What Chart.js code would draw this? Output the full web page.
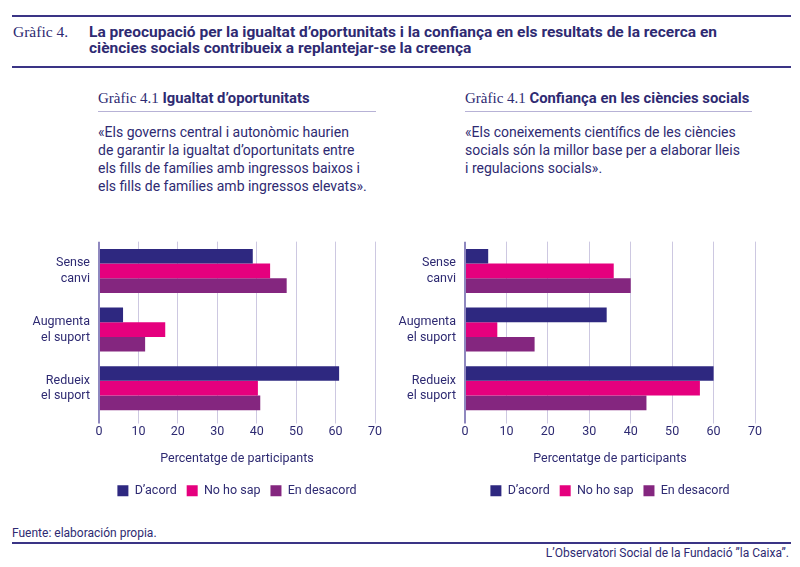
<!DOCTYPE html>
<html lang="ca">
<head>
<meta charset="UTF-8">
<title>Gràfic 4</title>
<script src="https://cdn.jsdelivr.net/npm/chart.js"></script>
<style>
  html, body { margin: 0; padding: 0; background: #fff; }
  body { width: 800px; height: 567px; position: relative; overflow: hidden;
         font-family: Roboto, sans-serif; color: #2e2a72; }
  .rule { position: absolute; left: 12px; width: 779px; height: 2px; background: #3a3485; }
  .serif { font-family: "Liberation Serif", "DejaVu Serif", serif; font-weight: normal; }
  #num { position: absolute; left: 13px; top: 23px; font-size: 15.5px; }
  #title { position: absolute; left: 89px; top: 24px; width: 650px;
           font-weight: bold; font-size: 15.5px; line-height: 16px; color: #2e2a72; }
  .sub { position: absolute; top: 89px; font-size: 15px; padding-bottom: 4px;
         border-bottom: 1px solid #b7b2d6; white-space: nowrap; }
  .sub b { font-size: 14.8px; }
  .quote { position: absolute; top: 123px; font-size: 14px; line-height: 18px; white-space: nowrap; }
  .box { position: absolute; top: 225px; height: 282px; }
  #foot { position: absolute; left: 12px; top: 526px; font-size: 12px; }
  #credit { position: absolute; right: 11px; top: 546px; font-size: 12px; }
</style>
</head>
<body>
<div class="rule" style="top:15px"></div>
<div id="num" class="serif">Gràfic 4.</div>
<div id="title">La preocupació per la igualtat d’oportunitats i la confiança en els resultats de la recerca en ciències socials contribueix a replantejar-se la creença</div>
<div class="rule" style="top:66px"></div>

<div class="sub" style="left:98px; width:278px"><span class="serif">Gràfic 4.1</span> <b>Igualtat d’oportunitats</b></div>
<div class="quote" style="left:98px">«Els governs central i autonòmic haurien<br>de garantir la igualtat d’oportunitats entre<br>els fills de famílies amb ingressos baixos i<br>els fills de famílies amb ingressos elevats».</div>

<div class="sub" style="left:465px; width:287px"><span class="serif">Gràfic 4.1</span> <b>Confiança en les ciències socials</b></div>
<div class="quote" style="left:465px">«Els coneixements científics de les ciències<br>socials són la millor base per a elaborar lleis<br>i regulacions socials».</div>

<div class="box" style="left:20px; width:372px"><canvas id="left"></canvas></div>
<div class="box" style="left:386px; width:386px"><canvas id="right"></canvas></div>

<div id="foot">Fuente: elaboración propia.</div>
<div class="rule" style="top:542px"></div>
<div id="credit">L’Observatori Social de la Fundació ”la Caixa”.</div>

<script>
// categories and series
const categories = [["Sense", "canvi"], ["Augmenta", "el suport"], ["Redueix", "el suport"]];
const seriesNames = ["D’acord", "No ho sap", "En desacord"];
const seriesColors = ["#2e2880", "#e5007e", "#84267f"];

const igualtatAcord = [39.0, 6.1, 60.9];
const igualtatNoSap = [43.4, 16.8, 40.3];
const igualtatDesacord = [47.6, 11.7, 40.9];

const confiancaAcord = [5.6, 34.2, 60.0];
const confiancaNoSap = [35.9, 7.8, 56.7];
const confiancaDesacord = [40.0, 16.8, 43.8];

const xTicks = [0, 10, 20, 30, 40, 50, 60, 70];

const textColor = "#2e2a72";
const font = "Roboto, sans-serif";

function makeChart(id, values, yWidth) {
  const ctx = document.getElementById(id).getContext('2d');
  return new Chart(ctx, {
    type: 'bar',
    data: {
      labels: categories,
      datasets: values.map((v, i) => ({
        label: seriesNames[i],
        data: v,
        backgroundColor: seriesColors[i],
        borderWidth: 0,
        barPercentage: 1.0,
        categoryPercentage: 0.75
      }))
    },
    options: {
      indexAxis: 'y',
      responsive: true,
      maintainAspectRatio: false,
      animation: false,
      layout: { padding: { top: 15, right: 17, left: 0, bottom: 0 } },
      scales: {
        x: {
          min: 0, max: 70,
          afterBuildTicks: s => { s.ticks = xTicks.map(v => ({ value: v })); },
          grid: {
            color: c => c.tick && c.tick.value === 0 ? '#8f88bf' : '#cdc8e1',
            lineWidth: c => c.tick && c.tick.value === 0 ? 2 : 1,
            tickLength: 6
          },
          border: { display: false },
          ticks: { color: textColor, font: { family: font, size: 12.5 }, padding: 1 },
          title: { display: true, text: 'Percentatge de participants', color: textColor,
                   font: { family: font, size: 12.5 }, padding: { top: 11, bottom: 8 } }
        },
        y: {
          afterFit: s => { s.width = yWidth; },
          grid: { display: false },
          border: { display: false },
          ticks: { color: textColor, font: { family: font, size: 12.5, lineHeight: 1.25 }, padding: 1 }
        }
      },
      plugins: {
        legend: {
          position: 'bottom',
          fullSize: false,
          labels: { color: textColor, boxWidth: 11, boxHeight: 11, padding: 10,
                    font: { family: font, size: 12.5 } }
        },
        tooltip: { enabled: false }
      }
    }
  });
}

makeChart('left', [igualtatAcord, igualtatNoSap, igualtatDesacord], 79);
makeChart('right', [confiancaAcord, confiancaNoSap, confiancaDesacord], 79);
</script>
</body>
</html>
